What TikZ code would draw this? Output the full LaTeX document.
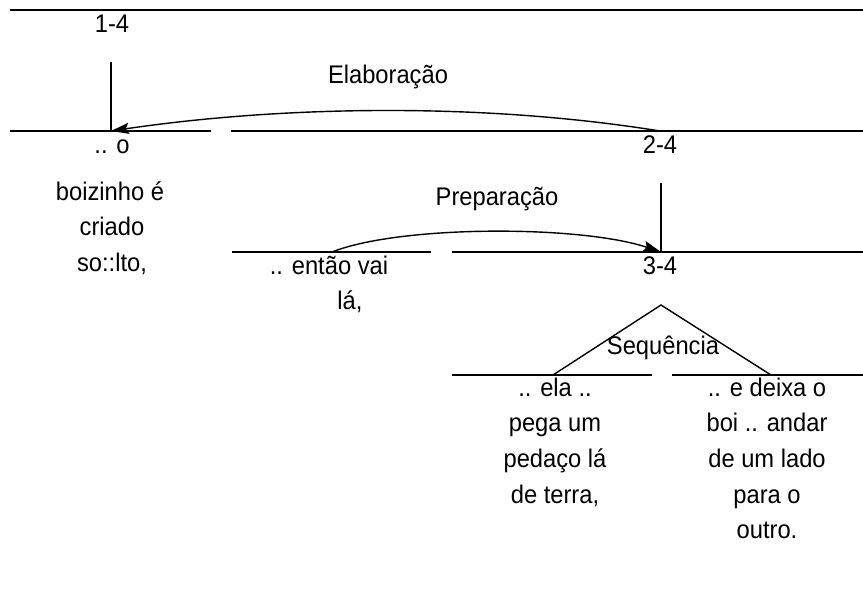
\documentclass[tikz,border=0pt]{standalone}
\usepackage{fontspec}
\setmainfont{Liberation Sans}[FakeStretch=0.93]
\usetikzlibrary{arrows.meta}
\begin{document}
\begin{tikzpicture}[x=1pt,y=-1pt,
  seg/.style={line width=1.4pt},
  rel/.style={line width=1.4pt,-{Stealth[length=18pt,width=11pt,inset=3pt]}},
  txt/.style={inner sep=0pt,anchor=base,font=\fontsize{25.5}{30}\selectfont}]
\useasboundingbox (0,0) rectangle (863,592);
% span lines
\coordinate (t0) at (10,10); \coordinate (t1) at (863,10);
\coordinate (a0) at (10,131); \coordinate (a1) at (211,131);
\coordinate (a2) at (231,131); \coordinate (a3) at (863,131);
\coordinate (b0) at (232,252); \coordinate (b1) at (431,252);
\coordinate (b2) at (452,252); \coordinate (b3) at (863,252);
\coordinate (c0) at (452,375); \coordinate (c1) at (652,375);
\coordinate (c2) at (672,375); \coordinate (c3) at (863,375);
\draw[seg] (t0) -- (t1);
\draw[seg] (a0) -- (a1); \draw[seg] (a2) -- (a3);
\draw[seg] (b0) -- (b1); \draw[seg] (b2) -- (b3);
\draw[seg] (c0) -- (c1); \draw[seg] (c2) -- (c3);
% nucleus markers
\coordinate (n14top) at (111,62); \coordinate (n14) at (111,131);
\coordinate (n24) at (660,131);
\coordinate (n34top) at (661,183); \coordinate (n34) at (661,252);
\coordinate (s34) at (332,252);
\coordinate (apex) at (661,305);
\coordinate (fl) at (553,375); \coordinate (fr) at (771,375);
\draw[seg] (n14top) -- (n14);
\draw[seg] (n34top) -- (n34);
% relations
\draw[rel] (n24) .. controls (480,102) and (280,106) .. (n14);
\draw[rel] (s34) .. controls (400,225) and (580,225) .. (n34);
\draw[seg] (fl) -- (apex) -- (fr);
% labels
\node[txt] (l14) at (112,32) {1-4};
\node[txt] (l24) at (660,153) {2-4};
\node[txt] (l34) at (660,274) {3-4};
\node[txt] (elab) at (388,83) {Elaboração};
\node[txt] (prep) at (497,205) {Preparação};
\node[txt] (seq) at (663,354) {Sequência};
% segment texts
\node[txt] (u1a) at (112,153) {.. o};
\node[txt] (u1b) at (110,200) {boizinho é};
\node[txt] (u1c) at (112,235) {criado};
\node[txt] (u1d) at (112,271) {so::lto,};
\node[txt] (u2a) at (329,274) {.. então vai};
\node[txt] (u2b) at (350,309) {lá,};
\node[txt] (u3a) at (555,396) {.. ela ..};
\node[txt] (u3b) at (555,431) {pega um};
\node[txt] (u3c) at (555,467) {pedaço lá};
\node[txt] (u3d) at (555,503) {de terra,};
\node[txt] (u4a) at (767,396) {.. e deixa o};
\node[txt] (u4b) at (767,431) {boi .. andar};
\node[txt] (u4c) at (767,467) {de um lado};
\node[txt] (u4d) at (767,503) {para o};
\node[txt] (u4e) at (767,538) {outro.};
\end{tikzpicture}
\end{document}
